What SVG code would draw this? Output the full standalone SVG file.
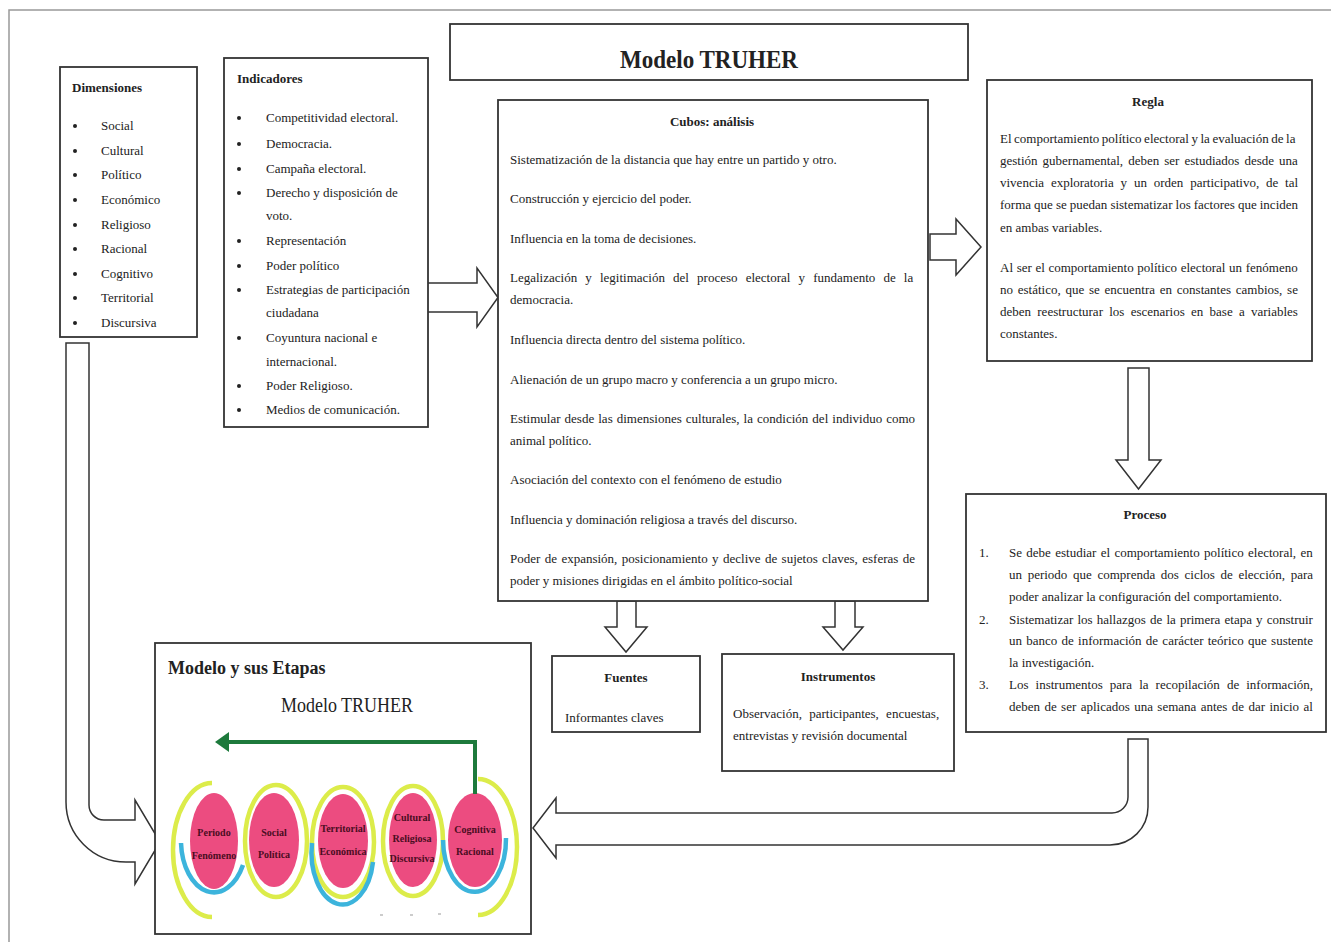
<svg xmlns="http://www.w3.org/2000/svg" width="1331" height="942" viewBox="0 0 1331 942">
<style>
.box{fill:#fff;stroke:#333;stroke-width:1.8}
.t{font-family:"Liberation Serif","Times New Roman",serif;font-size:13px;fill:#222}
.b{font-weight:bold}
.m{text-anchor:middle}
.bul{fill:#222}
.arr{fill:#fff;stroke:#333;stroke-width:1.5;stroke-linejoin:miter}
.ell{fill:#ec4c80}
.yel{fill:none;stroke:#dcec4a;stroke-width:4.5}
.blu{fill:none;stroke:#3cb4dc;stroke-width:4.5}
.ct{font-family:"Liberation Serif","Times New Roman",serif;font-size:10px;font-weight:bold;fill:#4a0c22;text-anchor:middle}
</style>
<rect x="0" y="0" width="1331" height="942" fill="#fff"/>
<rect x="9" y="10" width="1330" height="940" fill="none" stroke="#999" stroke-width="1.5"/>

<g id="connectors">
  <path class="arr" d="M427,283 H477 V268 L498,297.5 L477,327 V312 H427 Z"/>
  <path class="arr" d="M930,234 H956 V219 L981,247 L956,275 V260 H930 Z"/>
  <path class="arr" d="M1128,368 H1149 V460 H1161 L1138.5,489 L1116,460 H1128 Z"/>
  <path class="arr" d="M617,601 V627 H605 L626,652 L647,627 H636 V601 Z"/>
  <path class="arr" d="M835,601 V627 H823 L843,650 L863,627 H855 V601 Z"/>
  <path class="arr" d="M1128,739 V797 A16,16 0 0 1 1112,813 H556 V798 L533,828 L556,858 V845 H1110 A38,38 0 0 0 1148,807 V739 Z"/>
  <path class="arr" d="M66,343 H89 V805 A15,15 0 0 0 104,820 H135 V800 L160,842 L135,884 V862 H126 A60,60 0 0 1 66,802 Z"/>
</g>

<g id="title">
  <rect class="box" x="450" y="24" width="518" height="56"/>
  <text class="t b m" x="709" y="68" style="font-size:25px" textLength="178" lengthAdjust="spacingAndGlyphs">Modelo TRUHER</text>
</g>

<g id="dimensiones">
  <rect class="box" x="60" y="67" width="137" height="270"/>
  <text class="t b" x="72" y="92">Dimensiones</text>
  <g class="bul">
    <circle cx="75" cy="126" r="2"/><circle cx="75" cy="151" r="2"/><circle cx="75" cy="175" r="2"/>
    <circle cx="75" cy="200" r="2"/><circle cx="75" cy="225" r="2"/><circle cx="75" cy="249" r="2"/>
    <circle cx="75" cy="274" r="2"/><circle cx="75" cy="298" r="2"/><circle cx="75" cy="323" r="2"/>
  </g>
  <g class="t">
    <text x="101" y="130">Social</text>
    <text x="101" y="155">Cultural</text>
    <text x="101" y="179">Político</text>
    <text x="101" y="204">Económico</text>
    <text x="101" y="229">Religioso</text>
    <text x="101" y="253">Racional</text>
    <text x="101" y="278">Cognitivo</text>
    <text x="101" y="302">Territorial</text>
    <text x="101" y="327">Discursiva</text>
  </g>
</g>

<g id="indicadores">
  <rect class="box" x="224" y="58" width="204" height="369"/>
  <text class="t b" x="237" y="83">Indicadores</text>
  <g class="bul">
    <circle cx="239" cy="118" r="2"/><circle cx="239" cy="144" r="2"/><circle cx="239" cy="169" r="2"/>
    <circle cx="239" cy="193" r="2"/><circle cx="239" cy="241" r="2"/><circle cx="239" cy="266" r="2"/>
    <circle cx="239" cy="290" r="2"/><circle cx="239" cy="338" r="2"/><circle cx="239" cy="386" r="2"/>
    <circle cx="239" cy="410" r="2"/>
  </g>
  <g class="t">
    <text x="266" y="122">Competitividad electoral.</text>
    <text x="266" y="148">Democracia.</text>
    <text x="266" y="173">Campaña electoral.</text>
    <text x="266" y="197">Derecho y disposición de</text>
    <text x="266" y="220">voto.</text>
    <text x="266" y="245">Representación</text>
    <text x="266" y="270">Poder político</text>
    <text x="266" y="294">Estrategias de participación</text>
    <text x="266" y="317">ciudadana</text>
    <text x="266" y="342">Coyuntura nacional e</text>
    <text x="266" y="366">internacional.</text>
    <text x="266" y="390">Poder Religioso.</text>
    <text x="266" y="414">Medios de comunicación.</text>
  </g>
</g>

<g id="cubos">
  <rect class="box" x="498" y="100" width="430" height="501"/>
  <text class="t b m" x="712" y="126">Cubos: análisis</text>
  <g class="t">
    <text x="510" y="164">Sistematización de la distancia que hay entre un partido y otro.</text>
    <text x="510" y="203">Construcción y ejercicio del poder.</text>
    <text x="510" y="243">Influencia en la toma de decisiones.</text>
    <text x="510" y="282" word-spacing="4.9">Legalización y legitimación del proceso electoral y fundamento de la</text>
    <text x="510" y="304">democracia.</text>
    <text x="510" y="344">Influencia directa dentro del sistema político.</text>
    <text x="510" y="384">Alienación de un grupo macro y conferencia a un grupo micro.</text>
    <text x="510" y="423" word-spacing="0.8">Estimular desde las dimensiones culturales, la condición del individuo como</text>
    <text x="510" y="445">animal político.</text>
    <text x="510" y="484">Asociación del contexto con el fenómeno de estudio</text>
    <text x="510" y="524">Influencia y dominación religiosa a través del discurso.</text>
    <text x="510" y="563" word-spacing="1.15">Poder de expansión, posicionamiento y declive de sujetos claves, esferas de</text>
    <text x="510" y="585">poder y misiones dirigidas en el ámbito político-social</text>
  </g>
</g>

<g id="regla">
  <rect class="box" x="987" y="80" width="325" height="281"/>
  <text class="t b m" x="1148" y="106">Regla</text>
  <g class="t">
    <text x="1000" y="143" word-spacing="-0.7">El comportamiento político electoral y la evaluación de la</text>
    <text x="1000" y="165" word-spacing="1.8">gestión gubernamental, deben ser estudiados desde una</text>
    <text x="1000" y="187" word-spacing="3.6">vivencia exploratoria y un orden participativo, de tal</text>
    <text x="1000" y="209" word-spacing="-0.2">forma que se puedan sistematizar los factores que inciden</text>
    <text x="1000" y="232">en ambas variables.</text>
    <text x="1000" y="272" word-spacing="0.4">Al ser el comportamiento político electoral un fenómeno</text>
    <text x="1000" y="294" word-spacing="1.5">no estático, que se encuentra en constantes cambios, se</text>
    <text x="1000" y="316" word-spacing="3">deben reestructurar los escenarios en base a variables</text>
    <text x="1000" y="338">constantes.</text>
  </g>
</g>

<g id="proceso">
  <rect class="box" x="966" y="494" width="360" height="238"/>
  <text class="t b m" x="1145" y="519">Proceso</text>
  <g class="t">
    <text x="979" y="557">1.</text>
    <text x="1009" y="557" word-spacing="1.1">Se debe estudiar el comportamiento político electoral, en</text>
    <text x="1009" y="579" word-spacing="2.4">un periodo que comprenda dos ciclos de elección, para</text>
    <text x="1009" y="601">poder analizar la configuración del comportamiento.</text>
    <text x="979" y="624">2.</text>
    <text x="1009" y="624" word-spacing="0.9">Sistematizar los hallazgos de la primera etapa y construir</text>
    <text x="1009" y="645" word-spacing="1">un banco de información de carácter teórico que sustente</text>
    <text x="1009" y="667">la investigación.</text>
    <text x="979" y="689">3.</text>
    <text x="1009" y="689" word-spacing="3.8">Los instrumentos para la recopilación de información,</text>
    <text x="1009" y="711" word-spacing="1.15">deben de ser aplicados una semana antes de dar inicio al</text>
  </g>
</g>

<g id="fuentes">
  <rect class="box" x="552" y="656" width="148" height="76"/>
  <text class="t b m" x="626" y="682">Fuentes</text>
  <text class="t" x="565" y="722">Informantes claves</text>
</g>

<g id="instrumentos">
  <rect class="box" x="722" y="654" width="232" height="117"/>
  <text class="t b m" x="838" y="681">Instrumentos</text>
  <text class="t" x="733" y="718" word-spacing="4">Observación, participantes, encuestas,</text>
  <text class="t" x="733" y="740">entrevistas y revisión documental</text>
</g>

<g id="modelo-etapas">
  <rect class="box" x="155" y="643" width="376" height="291"/>
  <text class="t b" x="168" y="674" style="font-size:18px">Modelo y sus Etapas</text>
  <text class="t m" x="347" y="712" style="font-size:21px" textLength="132" lengthAdjust="spacingAndGlyphs">Modelo TRUHER</text>
  <path class="yel" d="M212,783 A39,67 0 0 0 212,917"/>
  <ellipse class="yel" cx="276" cy="841" rx="31" ry="56"/>
  <ellipse class="yel" cx="343" cy="842" rx="31" ry="55"/>
  <ellipse class="yel" cx="413" cy="841" rx="30" ry="55"/>
  <path class="yel" d="M478,779 A39,68 0 0 1 478,915"/>
  <ellipse class="ell" cx="214" cy="841" rx="24" ry="48"/>
  <ellipse class="ell" cx="274" cy="840" rx="25" ry="47"/>
  <ellipse class="ell" cx="343" cy="841" rx="25" ry="47"/>
  <ellipse class="ell" cx="413" cy="840" rx="24" ry="47"/>
  <ellipse class="ell" cx="475" cy="840" rx="27" ry="47"/>
  <path class="blu" d="M181,843 A33,52 0 0 0 243,865"/>
  <path class="blu" d="M312,843 A31,52 0 0 0 373,862"/>
  <path class="blu" d="M443,840 A31,52 0 0 0 506,838"/>
  <polyline points="475,794 475,742 228,742" fill="none" stroke="#1d7a3c" stroke-width="4"/>
  <polygon points="229,732 215,742 229,752" fill="#1d7a3c"/>
  <text class="ct" x="214" y="836">Periodo</text>
  <text class="ct" x="214" y="859">Fenómeno</text>
  <text class="ct" x="274" y="836">Social</text>
  <text class="ct" x="274" y="858">Política</text>
  <text class="ct" x="343" y="832">Territorial</text>
  <text class="ct" x="343" y="855">Económica</text>
  <text class="ct" x="412" y="821">Cultural</text>
  <text class="ct" x="412" y="842">Religiosa</text>
  <text class="ct" x="412" y="862">Discursiva</text>
  <text class="ct" x="475" y="833">Cognitiva</text>
  <text class="ct" x="475" y="855">Racional</text>
  <g fill="#ccc">
    <rect x="380" y="914" width="3" height="2"/>
    <rect x="410" y="914" width="3" height="2"/>
    <rect x="438" y="913" width="3" height="2"/>
  </g>
</g>
</svg>
